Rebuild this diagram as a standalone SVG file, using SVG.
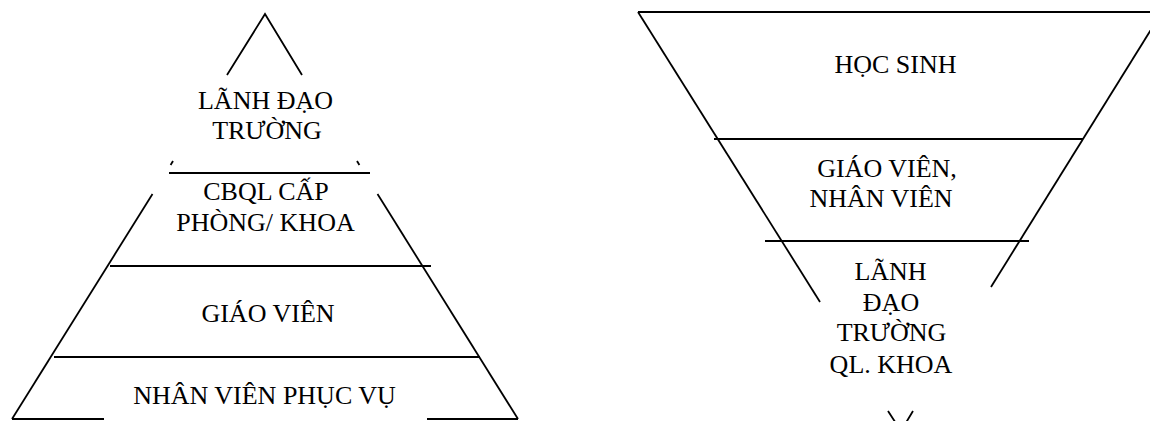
<svg xmlns="http://www.w3.org/2000/svg" width="1150" height="421" viewBox="0 0 1150 421">
<style>
.ln{stroke:#000;stroke-width:1.8;fill:none;stroke-linecap:butt}
.t{font-family:"Liberation Serif","Times New Roman",serif;font-size:26px;fill:#000;text-anchor:middle}
</style>
<rect width="1150" height="421" fill="#fff"/>
<g id="connectors">
<!-- left pyramid edges -->
<polyline class="ln" points="227,75 265,14 302,75"/>
<line class="ln" x1="173" y1="161" x2="170.6" y2="165"/>
<line class="ln" x1="357" y1="161" x2="359.4" y2="165"/>
<line class="ln" x1="152.5" y1="194" x2="12" y2="419"/>
<line class="ln" x1="377.5" y1="194" x2="518" y2="419"/>
<line class="ln" x1="169" y1="173" x2="370" y2="173"/>
<line class="ln" x1="110" y1="266" x2="431" y2="266"/>
<line class="ln" x1="54" y1="357" x2="480" y2="357"/>
<line class="ln" x1="12" y1="419" x2="104" y2="419"/>
<line class="ln" x1="427" y1="419" x2="518" y2="419"/>
<!-- right inverted pyramid edges -->
<line class="ln" x1="638" y1="12" x2="1150" y2="12"/>
<line class="ln" x1="638" y1="12" x2="820" y2="302"/>
<line class="ln" x1="1162" y1="12" x2="991" y2="287"/>
<line class="ln" x1="714" y1="139" x2="1083" y2="139"/>
<line class="ln" x1="765" y1="241" x2="1029" y2="241"/>
<polyline class="ln" points="888,411 901,431 913,411"/>
</g>
<g id="node-lanh-dao-truong">
<text class="t" x="265.5" y="109">LÃNH ĐẠO</text>
<text class="t" x="267" y="139">TRƯỜNG</text>
</g>
<g id="node-cbql">
<text class="t" x="266" y="200">CBQL CẤP</text>
<text class="t" x="265.5" y="231">PHÒNG/ KHOA</text>
</g>
<g id="node-giao-vien">
<text class="t" x="268" y="322">GIÁO VIÊN</text>
</g>
<g id="node-nhan-vien-phuc-vu">
<text class="t" x="264.5" y="404">NHÂN VIÊN PHỤC VỤ</text>
</g>
<g id="node-hoc-sinh">
<text class="t" x="895.5" y="73">HỌC SINH</text>
</g>
<g id="node-giao-vien-nhan-vien">
<text class="t" x="887" y="177">GIÁO VIÊN,</text>
<text class="t" x="881" y="207">NHÂN VIÊN</text>
</g>
<g id="node-lanh-dao-ql-khoa">
<text class="t" x="890.5" y="280">LÃNH</text>
<text class="t" x="891" y="311">ĐẠO</text>
<text class="t" x="891.5" y="341">TRƯỜNG</text>
<text class="t" x="891" y="373">QL. KHOA</text>
</g>
</svg>
